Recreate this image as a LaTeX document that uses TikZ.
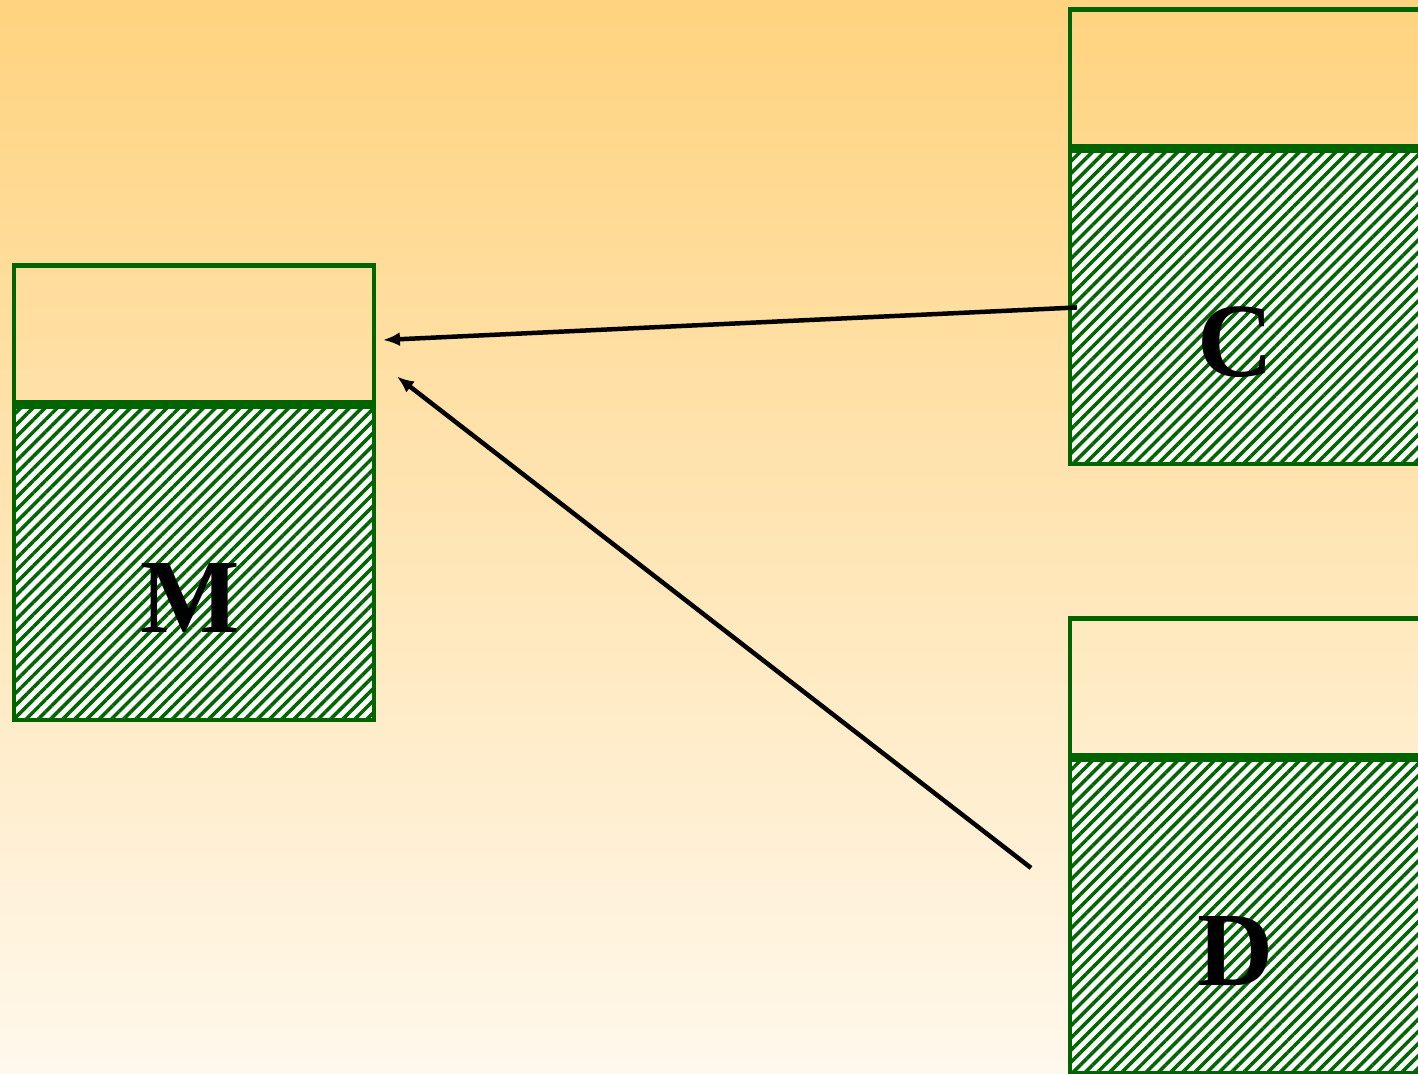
\documentclass[tikz,border=0pt]{standalone}
\usepackage{fontspec}
\setmainfont{Liberation Serif}
\usetikzlibrary{arrows.meta,patterns.meta,positioning}

\definecolor{tankgreen}{RGB}{0,100,0}
\definecolor{skytop}{RGB}{255,211,127}
\definecolor{skybottom}{RGB}{255,248,236}

\begin{document}
\begin{tikzpicture}[
        x=0.02cm, y=-0.02cm,
        every node/.style={inner sep=0pt, outer sep=0pt},
        head/.style={draw=tankgreen, line width=0.09cm, rectangle, minimum width=7.2cm, minimum height=2.74cm},
        body/.style={draw=tankgreen, line width=0.09cm, rectangle, minimum width=7.2cm, minimum height=6.26cm,
            preaction={fill=white}, pattern={Lines[angle=45,distance=4.9pt,line width=2pt]}, pattern color=tankgreen},
        tag/.style={font=\bfseries\fontsize{60}{60}\selectfont},
        flow/.style={-{Latex[length=0.34cm,width=0.28cm]}, line width=0.09cm}
    ]
    \useasboundingbox (0,0) rectangle (1418,1074);
    \clip (0,0) rectangle (1418,1074);
    \shade[top color=skytop, bottom color=skybottom] (0,0) rectangle (1418,1074);

    % tanks
    \node[head] (Mtop) at (194,334) {};
    \node[body, below=0.09cm of Mtop] (M) {};
    \node[head] (Ctop) at (1250,78) {};
    \node[body, below=0.09cm of Ctop] (C) {};
    \node[head] (Dtop) at (1250,687) {};
    \node[body, below=0.09cm of Dtop] (D) {};

    \node[tag] (Mlbl) at ([xshift=-0.08cm,yshift=-0.7cm]M.center) {M};
    \node[tag] (Clbl) at ([xshift=-0.28cm,yshift=-0.7cm]C.center) {C};
    \node[tag] (Dlbl) at ([xshift=-0.28cm,yshift=-0.7cm]D.center) {D};

    % flows into M
    \coordinate (Dtail) at ([xshift=-0.78cm,yshift=0.97cm]D.west);
    \draw[flow] ([xshift=0.14cm]C.west) -- ([xshift=0.18cm,yshift=-0.12cm]Mtop.east);
    \draw[flow] (Dtail) -- ([xshift=0.46cm,yshift=0.52cm]Mtop.south east);
\end{tikzpicture}
\end{document}
